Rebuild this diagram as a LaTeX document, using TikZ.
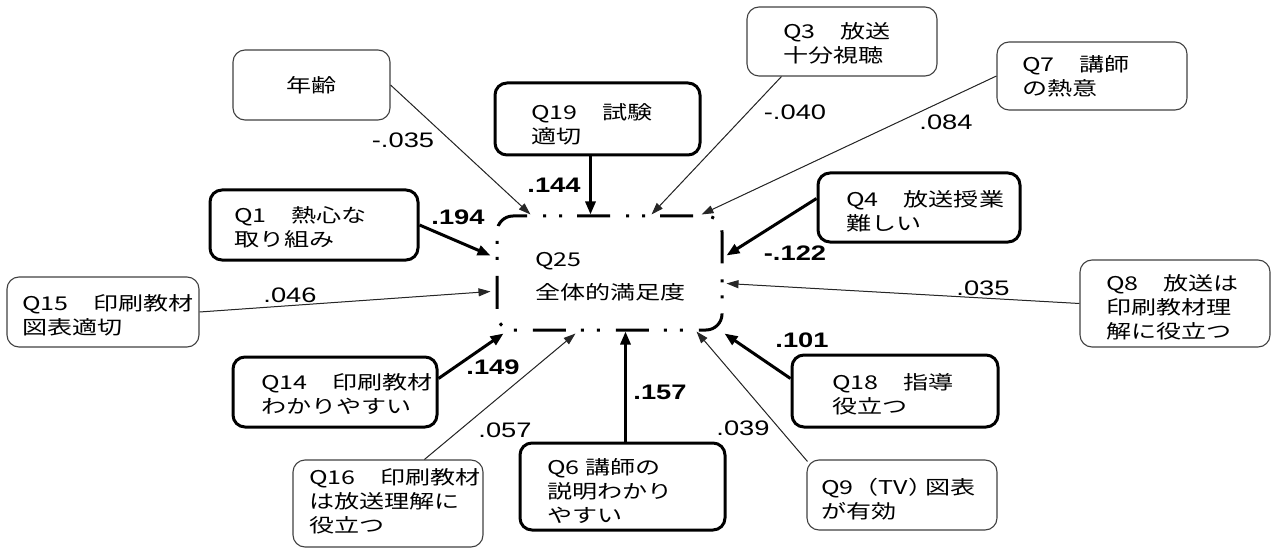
\documentclass[tikz,border=0pt]{standalone}
\usepackage{fontspec}
\newfontfamily\jpfont[FakeStretch=1.32]{Noto Sans CJK JP}
\newfontfamily\numfont[FakeStretch=1.3]{Liberation Sans}
\usetikzlibrary{arrows.meta,calc}
\tikzset{
  thinbox/.style={draw=black!75, line width=1.1pt, rounded corners=12pt, inner sep=0pt},
  thickbox/.style={draw=black, line width=3pt, rounded corners=12pt, inner sep=0pt},
  txt/.style={font=\jpfont\fontsize{19}{24}\selectfont, align=left, inner sep=0pt, anchor=west},
  thinarr/.style={-{Triangle[length=12pt,width=8pt]}, line width=1pt, draw=black!85, fill=black!85},
  thickarr/.style={-{Triangle[length=13pt,width=10pt]}, line width=3pt, draw=black},
  lbl/.style={font=\numfont\fontsize{21}{21}\selectfont, inner sep=0pt},
  lblb/.style={font=\numfont\bfseries\fontsize{21}{21}\selectfont, inner sep=0pt},
  mainbox/.style={draw=black, line width=3pt, rounded corners=16pt,
    dash pattern=on 33pt off 15pt on 3pt off 13pt on 3pt off 16pt, dash phase=70pt, inner sep=0pt},
}
\begin{document}
\begin{tikzpicture}[x=1pt,y=-1pt]
\useasboundingbox (0,0) rectangle (1274,548);
% central box
\node[mainbox, minimum width=225pt, minimum height=114pt] (q25) at (609.5,273) {};
\node[txt] (q25t) at (535,276.5) {Q25\\[9pt]全体的満足度};
% boxes
\node[thinbox, minimum width=157pt, minimum height=70pt, font=\jpfont\fontsize{19}{24}\selectfont] (nenrei) at (311.5,85) {年齢};
\node[thickbox, minimum width=208pt, minimum height=70pt] (q1) at (314,225) {};
\node[txt] (q1t) at (234,227.5) {Q1　熱心な\\取り組み};
\node[thinbox, minimum width=192pt, minimum height=70pt] (q15) at (103,312) {};
\node[txt] (q15t) at (22,315) {Q15　印刷教材\\図表適切};
\node[thickbox, minimum width=204pt, minimum height=70pt] (q14) at (335,392) {};
\node[txt] (q14t) at (261,394) {Q14　印刷教材\\わかりやすい};
\node[thinbox, minimum width=190pt, minimum height=87pt] (q16) at (388,503.5) {};
\node[txt] (q16t) at (309,501.5) {Q16　印刷教材\\は放送理解に\\役立つ};
\node[thickbox, minimum width=205pt, minimum height=87pt] (q6) at (622.5,486.5) {};
\node[txt] (q6t) at (547,491) {Q6 講師の\\説明わかり\\やすい};
\node[thinbox, minimum width=190pt, minimum height=70pt] (q9) at (902,495) {};
\node[txt] (q9t) at (821,499) {Q9（TV）\hspace{-8pt}図表\\が有効};
\node[thickbox, minimum width=206pt, minimum height=72pt] (q18) at (895,391) {};
\node[txt] (q18t) at (832,394) {Q18　指導\\役立つ};
\node[thinbox, minimum width=190pt, minimum height=87pt] (q8) at (1175,303.5) {};
\node[txt] (q8t) at (1106,307.5) {Q8　放送は\\印刷教材理\\解に役立つ};
\node[thickbox, minimum width=202pt, minimum height=69pt] (q4) at (919,207.5) {};
\node[txt] (q4t) at (846,211.5) {Q4　放送授業\\難しい};
\node[thinbox, minimum width=190pt, minimum height=68pt] (q7) at (1092,76) {};
\node[txt] (q7t) at (1022,76.5) {Q7　講師\\の熱意};
\node[thinbox, minimum width=190pt, minimum height=69pt] (q3) at (842,41.5) {};
\node[txt] (q3t) at (783,43.5) {Q3　放送\\十分視聴};
\node[thickbox, minimum width=205pt, minimum height=72pt] (q19) at (597.5,119) {};
\node[txt] (q19t) at (531,124.5) {Q19　試験\\適切};
% connectors
\draw[thinarr] (nenrei.east) -- ($(q25.north west)+(35,0)$);
\draw[thickarr] ($(q19.south west)+(97,0)$) -- ($(q25.north west)+(95,0)$);
\draw[thinarr] ($(q3.south west)+(35,0)$) -- ($(q25.north west)+(156,0)$);
\draw[thinarr] (q7.west) -- ($(q25.north west)+(206,0)$);
\draw[thickarr] ($(q4.north west)+(0,27)$) -- ($(q25.north east)+(3,41)$);
\draw[thinarr] (q8.west) -- ($(q25.north east)+(3,69)$);
\draw[thickarr] ($(q18.north west)+(0,25)$) -- ($(q25.south east)+(1,2)$);
\draw[thinarr] ($(q9.north west)+(1,2)$) -- ($(q25.south west)+(201,0)$);
\draw[thickarr] ($(q6.north west)+(107,0)$) -- ($(q25.south west)+(130,0)$);
\draw[thinarr] ($(q16.north west)+(132,0)$) -- ($(q25.south west)+(80,2)$);
\draw[thickarr] ($(q14.north east)+(0,23)$) -- ($(q25.south west)+(8,2)$);
\draw[thinarr] (q15.east) -- ($(q25.north west)+(-5,77)$);
\draw[thickarr] (q1.east) -- ($(q25.north west)+(-5,41)$);
% labels
\node[lbl] (l1) at (403,140) {-.035};
\node[lblb] (l2) at (554,185) {.144};
\node[lbl] (l3) at (795,112) {-.040};
\node[lbl] (l4) at (946,122) {.084};
\node[lblb] (l5) at (458,217) {.194};
\node[lblb] (l6) at (795,253) {-.122};
\node[lbl] (l7) at (290,295) {.046};
\node[lbl] (l8) at (983,288) {.035};
\node[lblb] (l9) at (493,367) {.149};
\node[lblb] (l10) at (802,340) {.101};
\node[lblb] (l11) at (660,392) {.157};
\node[lbl] (l12) at (505,430) {.057};
\node[lbl] (l13) at (743,428) {.039};
\end{tikzpicture}
\end{document}
